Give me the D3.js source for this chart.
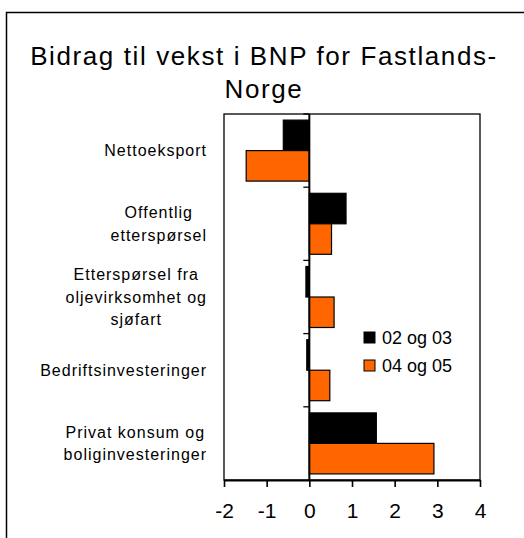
<!DOCTYPE html>
<html>
<head>
<meta charset="utf-8">
<script src="https://cdn.jsdelivr.net/npm/d3@7"></script>
<style>
  body { margin: 0; background: #fff; }
  svg text { font-family: "Liberation Sans", Arial, sans-serif; fill: #000; }
</style>
</head>
<body>
<div id="chart"></div>
<script>
// categories top to bottom, each label split into lines
var categories = [
    ["Nettoeksport"],
    ["Offentlig", "etterspørsel"],
    ["Etterspørsel fra", "oljevirksomhet og", "sjøfart"],
    ["Bedriftsinvesteringer"],
    ["Privat konsum og", "boliginvesteringer"]
];
var series = ["02 og 03", "04 og 05"];
var values0203 = [-0.61, 0.86, -0.08, -0.06, 1.57];
var values0405 = [-1.48, 0.52, 0.58, 0.48, 2.92];
var xTicks = [-2, -1, 0, 1, 2, 3, 4];

var colors = d3.scaleOrdinal().domain(series).range(["#000000", "#ff6600"]);

var width = 524, height = 538;
var plot = {left: 224, right: 480, top: 114, bottom: 480};

var svg = d3.select("#chart").append("svg")
    .attr("width", width)
    .attr("height", height);

// outer frame (runs off the right and bottom edge)
svg.append("rect")
    .attr("x", 6.5).attr("y", 12.5)
    .attr("width", 540).attr("height", 560)
    .attr("fill", "none")
    .attr("stroke", "#000")
    .attr("stroke-width", 1.5);

// title
var title = svg.append("text")
    .attr("text-anchor", "middle")
    .style("font-size", "26px")
    .style("letter-spacing", "1.6px");
title.append("tspan").attr("x", 264).attr("y", 65).text("Bidrag til vekst i BNP for Fastlands-");
title.append("tspan").attr("x", 264).attr("y", 97.5).text("Norge");

// scales
var xScale = d3.scaleLinear()
    .domain([-2, 4])
    .range([plot.left, plot.right]);

var yScale = d3.scaleBand()
    .domain(d3.range(categories.length))
    .range([plot.top, plot.bottom]);

var ySub = d3.scaleBand()
    .domain(series)
    .range([0, yScale.bandwidth()])
    .paddingInner(0)
    .paddingOuter(0.2);

// plot frame
svg.append("rect")
    .attr("x", plot.left).attr("y", plot.top)
    .attr("width", plot.right - plot.left)
    .attr("height", plot.bottom - plot.top)
    .attr("fill", "none")
    .attr("stroke", "#000")
    .attr("stroke-width", 1.3);

// bars
var rows = categories.map(function(c, i) {
    return [{s: series[0], v: values0203[i], i: i}, {s: series[1], v: values0405[i], i: i}];
});

svg.selectAll(".row")
    .data(rows)
    .enter().append("g")
    .attr("class", "row")
    .selectAll("rect")
    .data(function(d) { return d; })
    .enter().append("rect")
    .attr("x", function(d) { return xScale(Math.min(0, d.v)); })
    .attr("width", function(d) { return Math.abs(xScale(d.v) - xScale(0)); })
    .attr("y", function(d) { return yScale(d.i) + ySub(d.s); })
    .attr("height", ySub.bandwidth())
    .attr("fill", function(d) { return colors(d.s); })
    .attr("stroke", "#000")
    .attr("stroke-width", 1.2);

// x axis
var xAxis = svg.append("g")
    .attr("transform", "translate(0," + plot.bottom + ")")
    .call(d3.axisBottom(xScale).tickValues(xTicks).tickSize(7).tickSizeOuter(0)
        .tickFormat(function(d) { return String(d); }));
xAxis.select(".domain").attr("stroke-width", 2);
xAxis.selectAll(".tick line").attr("stroke-width", 1.6);
xAxis.selectAll(".tick text")
    .attr("y", 23)
    .style("font-size", "21px")
    .attr("font-family", null);

// category axis on zero line
var catAxis = svg.append("g")
    .attr("transform", "translate(" + xScale(0) + ",0)");
catAxis.append("line")
    .attr("x1", 0).attr("x2", 0)
    .attr("y1", plot.top).attr("y2", plot.bottom)
    .attr("stroke", "#000").attr("stroke-width", 2);
catAxis.selectAll(".cat-tick")
    .data(d3.range(categories.length))
    .enter().append("line")
    .attr("class", "cat-tick")
    .attr("x1", -6).attr("x2", 0)
    .attr("y1", function(i) { return yScale(i); })
    .attr("y2", function(i) { return yScale(i); })
    .attr("stroke", "#000").attr("stroke-width", 1.3);

// category labels: centred lines, block right aligned
var labelRight = 207, lineH = 22.5;
categories.forEach(function(lines, i) {
    var g = svg.append("g");
    var texts = lines.map(function(l, k) {
        return g.append("text")
            .attr("text-anchor", "middle")
            .style("font-size", "16px")
            .style("letter-spacing", "1px")
            .attr("y", yScale(i) + yScale.bandwidth() / 2 + 5.5 + (k - (lines.length - 1) / 2) * lineH)
            .text(l);
    });
    var maxW = d3.max(texts, function(t) { return t.node().getComputedTextLength(); });
    texts.forEach(function(t) { t.attr("x", labelRight - maxW / 2); });
});

// legend
var legend = svg.selectAll(".legend")
    .data(series)
    .enter().append("g")
    .attr("class", "legend")
    .attr("transform", function(d, i) { return "translate(364," + (332 + i * 28) + ")"; });
legend.append("rect")
    .attr("width", 11).attr("height", 11)
    .attr("fill", function(d) { return colors(d); })
    .attr("stroke", "#000").attr("stroke-width", 1);
legend.append("text")
    .attr("x", 18).attr("y", 12)
    .style("font-size", "18px")
    .text(function(d) { return d; });
</script>
</body>
</html>
